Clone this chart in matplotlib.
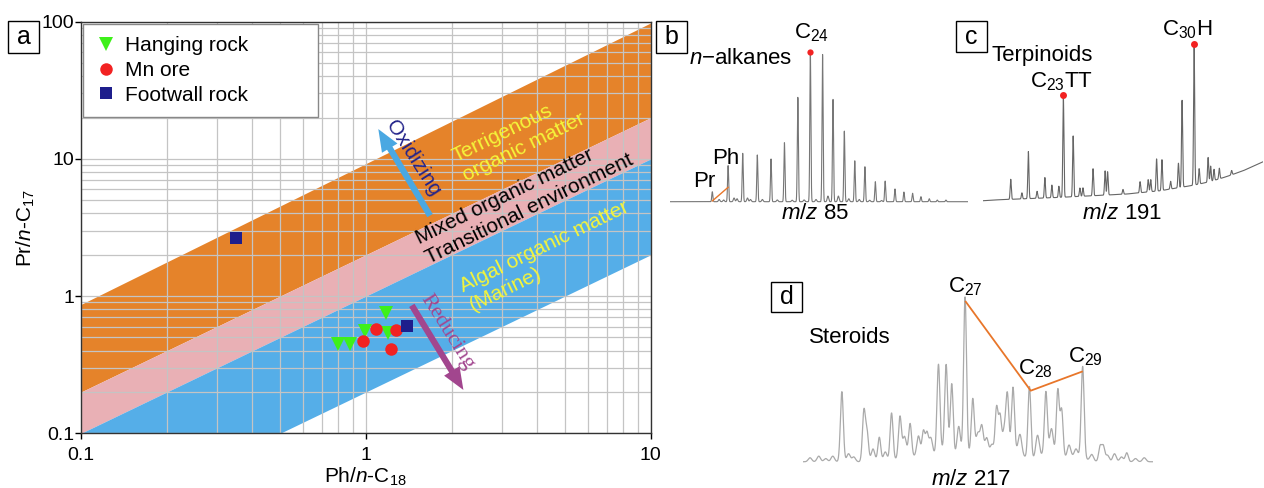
import numpy as np
import matplotlib
matplotlib.use("Agg")
import matplotlib.pyplot as plt
from matplotlib.patches import Rectangle

plt.rcParams['font.family'] = ['Liberation Sans', 'DejaVu Sans']
plt.rcParams['mathtext.fontset'] = 'custom'
plt.rcParams['mathtext.rm'] = 'Liberation Sans'
plt.rcParams['mathtext.it'] = 'Liberation Sans:italic'

W, H = 1264, 488

# ---- panel a data ----
band_x = [0.1, 10]
terr_top = [0.87, 98]
terr_bot = [0.2, 20]
algal_top = [0.1, 10]
algal_bot = [0.02, 2]

hang_ph = [0.80, 0.88, 0.99, 1.18, 1.20]
hang_pr = [0.45, 0.45, 0.56, 0.75, 0.54]
ore_ph = [0.975, 1.085, 1.276, 1.228]
ore_pr = [0.47, 0.575, 0.57, 0.41]
foot_ph = [0.35, 1.40]
foot_pr = [2.67, 0.605]

# ---- chromatograms (position 0-100, relative intensity) ----
alk_pos = [14.2, 19.5, 24.4, 29.3, 33.9, 38.4, 42.9, 47.1, 51.2, 54.7, 58.5, 62.0,
           65.4, 68.9, 72.2, 75.5, 78.5, 81.4, 84.2, 87.0, 89.7, 92.6]
alk_int = [6.7, 24.3, 32.6, 31.5, 28.8, 39.8, 70.4, 100, 99.3, 69, 47.6, 27.6,
           23.6, 13.5, 13.9, 8.6, 6.5, 5.7, 3.4, 2.0, 1.1, 1.1]
alk_minor_pos = [16.5, 18.0, 21.5, 22.5, 26.0, 27.0, 31.0, 36.0, 41.0, 45.0, 49.0,
                 53.0, 56.5, 60.0, 63.5, 67.0, 71.0]
alk_minor_int = [1.5, 1.2, 2.5, 2.0, 2.5, 1.5, 1.5, 1.2, 1.0, 1.2, 1.5, 3.8, 3.8,
                 2.0, 1.5, 1.0, 0.8]

ter_pos = [9.9, 13.9, 16.2, 19.3, 22.1, 24.6, 27.1, 28.7, 32.2, 34.6, 35.7, 39.3, 43.6,
           44.5, 50.0, 56.1, 59.0, 59.9, 62.0, 63.9, 67.0, 69.8, 71.1, 75.4, 77.2,
           80.4, 81.3, 82.5, 84.4, 88.8]
ter_int = [14.3, 4.3, 33.6, 5, 14.6, 9, 8, 72, 43.4, 6, 6, 19.3, 17.3, 16.6, 3.4,
           7.9, 8.8, 8.6, 23, 22, 5.5, 17.5, 62, 100, 11, 17.6, 11, 8, 7.6, 3.1]
ter_base_x = [0, 3.6, 27.5, 51.4, 63.2, 75, 81.1, 87.1, 92.9, 100]
ter_base_y = [0, 0.5, 2.4, 4.8, 7.1, 11, 13.6, 17.3, 21.4, 27.8]

ste_pos = [11.1, 17.4, 18.3, 21.8, 25.3, 27.7, 30.6, 34.4, 35.4, 38.7, 40.9, 42.5,
           46.3, 48.5, 51.1, 55.3, 56.3, 58.4, 60.0, 64.7, 69.4, 72.8, 73.9, 79.9,
           84.9, 85.8, 92.5]
ste_int = [43.8, 31.3, 18, 15.3, 29.8, 25.6, 20, 17.3, 15.4, 54.8, 54.2, 44.4,
           100, 32.8, 14.8, 31.3, 25, 34.8, 39.6, 45.3, 39, 41.7, 29.8, 57.3,
           9.4, 9.4, 5.6]
ste_minor_pos = [2, 4.5, 6.5, 8.5, 13, 14.5, 20, 23.5, 29, 33, 36.5, 44.5, 50, 52.5,
                 54, 57.5, 62, 67, 71, 76, 78, 82.5, 87, 89, 91, 95, 97.5]
ste_minor_int = [2.5, 3.5, 2, 3.5, 5, 3, 8, 6, 12, 14, 12, 20, 10, 10, 8, 15, 12,
                 14, 16, 8, 5, 4, 4, 5, 3, 2, 2.5]
ste_hump_pos = [30, 40, 50, 60, 70, 78]
ste_hump_int = [4, 7, 8, 7, 5, 3]

FS_A = 15    # panel a annotations
FS_C = 16    # chromatogram labels


def peaks(x, pos, hts, sig):
    p = np.asarray(pos)[:, None]
    h = np.asarray(hts)[:, None]
    return (h * np.exp(-0.5 * ((x[None, :] - p) / sig) ** 2)).sum(axis=0)


def px_axes(fig, left, top, right, bottom):
    return fig.add_axes([left / W, 1 - bottom / H, (right - left) / W, (bottom - top) / H])


def label_box(fig, x0, y0, x1, y1, s):
    fig.add_artist(Rectangle((x0 / W, 1 - y1 / H), (x1 - x0) / W, (y1 - y0) / H,
                             transform=fig.transFigure, fc='white', ec='black', lw=1.0))
    fig.text((x0 + x1) / 2 / W, 1 - (y0 + y1) / 2 / H, s, fontsize=18,
             ha='center', va='center')


fig = plt.figure(figsize=(W / 100, H / 100), dpi=100)

# ================= panel a =================
ax = px_axes(fig, 81, 21.7, 650.7, 433.3)
ax.set_xscale('log')
ax.set_yscale('log')
ax.fill_between(band_x, terr_bot, terr_top, color='#e5832a', lw=0, zorder=1)
ax.fill_between(band_x, algal_top, terr_bot, color='#e9b0b5', lw=0, zorder=1)
ax.fill_between(band_x, algal_bot, algal_top, color='#55aee8', lw=0, zorder=1)
ax.set_xlim(0.1, 10)
ax.set_ylim(0.1, 100)
ax.grid(True, which='both', color='#c4c4c4', lw=0.9, zorder=1.5)
ax.set_xticks([0.1, 1, 10])
ax.set_xticklabels(['0.1', '1', '10'])
ax.set_yticks([0.1, 1, 10, 100])
ax.set_yticklabels(['0.1', '1', '10', '100'])
ax.tick_params(which='major', length=4, width=1, labelsize=14, direction='out')
ax.tick_params(axis='x', which='major', pad=6)
ax.tick_params(axis='y', which='major', pad=1)
ax.tick_params(which='minor', length=0)
for s in ax.spines.values():
    s.set_color('#333333')
    s.set_linewidth(1.0)

ax.plot(hang_ph, hang_pr, 'v', color='#3ef01a', ms=10, mew=0, ls='none',
        label='Hanging rock', zorder=4)
ax.plot(ore_ph, ore_pr, 'o', color='#f22222', ms=9, mew=0, ls='none',
        label='Mn ore', zorder=4)
ax.plot(foot_ph, foot_pr, 's', color='#1e1e8c', ms=9, mew=0, ls='none',
        label='Footwall rock', zorder=4)

leg = ax.legend(loc='upper left', bbox_to_anchor=(0.0035, 0.755, 0.4125, 0.24),
                mode='expand', fontsize=15, frameon=True, fancybox=False,
                edgecolor='#888888', framealpha=1, borderpad=0.6, labelspacing=0.27,
                handlelength=1.0, handletextpad=0.42, borderaxespad=0)
leg.get_frame().set_linewidth(1.0)
leg.set_zorder(6)

ax.set_xlabel('Ph/$n$-C$_{18}$', fontsize=15, labelpad=1)
ax.set_ylabel('Pr/$n$-C$_{17}$', fontsize=15, labelpad=3)

ax.text(3.44, 14.3, 'Terrigenous\norganic matter', color='#f5f53a', fontsize=FS_A,
        rotation=26, rotation_mode='anchor', ha='center', va='center',
        multialignment='left', zorder=5)
ax.text(3.6, 5.07, 'Mixed organic matter\nTransitional environment', color='black',
        fontsize=FS_A, rotation=26, rotation_mode='anchor', ha='center', va='center',
        multialignment='left', zorder=5)
ax.text(4.4, 1.95, 'Algal organic matter\n(Marine)', color='#f5f53a', fontsize=FS_A,
        rotation=26, rotation_mode='anchor', ha='center', va='center',
        multialignment='left', zorder=5)

ax.annotate('', xy=(1.106, 16.5), xytext=(1.68, 3.86),
            arrowprops=dict(arrowstyle='simple,head_width=1.3,head_length=1.6,tail_width=0.45',
                            color='#4aa8e2', lw=0, shrinkA=0, shrinkB=0, mutation_scale=10),
            zorder=5)
ax.annotate('', xy=(2.2, 0.207), xytext=(1.45, 0.856),
            arrowprops=dict(arrowstyle='simple,head_width=1.3,head_length=1.6,tail_width=0.45',
                            color='#a2468e', lw=0, shrinkA=0, shrinkB=0, mutation_scale=10),
            zorder=5)
ax.text(1.467, 10.1, 'Oxidizing', color='#22238a', fontsize=FS_A, rotation=-57.5,
        rotation_mode='anchor', ha='center', va='center', zorder=5)
ax.text(1.93, 0.547, 'Reducing', color='#a2478f', fontsize=16, rotation=-57.8,
        rotation_mode='anchor', ha='center', va='center', zorder=5,
        family=['Liberation Serif', 'DejaVu Serif'])

label_box(fig, 8, 21, 39, 53, 'a')

# ================= panel b =================
bx = px_axes(fig, 670, 20, 968, 230)
xs = np.linspace(0, 100, 6000)
yb = peaks(xs, alk_pos, alk_int, 0.18) + peaks(xs, alk_minor_pos, alk_minor_int, 0.25)
bx.plot(xs, yb, color='#777777', lw=0.8)
bx.plot([alk_pos[0], alk_pos[1]], [0.5, 9.7], color='#e8762a', lw=1.0)
bx.plot(alk_pos[7], alk_int[7] + 0.7, 'o', color='#f22222', ms=4.5, mew=0)
bx.set_xlim(0, 100)
bx.set_ylim(-19.07, 122.44)
bx.axis('off')
bx.text(6.4, 96.8, '$n$\u2212alkanes', fontsize=FS_C, ha='left', va='center')
bx.text(47.5, 113.7, 'C$_{24}$', fontsize=FS_C, ha='center', va='center')
bx.text(18.6, 29.4, 'Ph', fontsize=FS_C, ha='center', va='center')
bx.text(11.6, 13.3, 'Pr', fontsize=FS_C, ha='center', va='center')
bx.text(48.7, -7.9, '$m/z$ 85', fontsize=FS_C, ha='center', va='center')
label_box(fig, 656, 21, 687, 53, 'b')

# ================= panel c =================
cx = px_axes(fig, 983, 15, 1263, 230)
xc = np.linspace(0, 100, 6000)
base_c = np.interp(xc, ter_base_x, ter_base_y)
yc = base_c + peaks(xc, ter_pos, ter_int, 0.2)
cx.plot(xc, yc, color='#666666', lw=0.8)
for i in (7, 23):
    cx.plot(ter_pos[i], ter_int[i] + np.interp(ter_pos[i], ter_base_x, ter_base_y) + 1,
            'o', color='#f22222', ms=5, mew=0)
cx.set_xlim(0, 100)
cx.set_ylim(-20.9, 132.6)
cx.axis('off')
cx.text(3.2, 104, 'Terpinoids', fontsize=FS_C, ha='left', va='center')
cx.text(27.9, 84.8, 'C$_{23}$TT', fontsize=FS_C, ha='center', va='center')
cx.text(73, 121.9, 'C$_{30}$H', fontsize=FS_C, ha='center', va='center')
cx.text(49.8, -8.8, '$m/z$ 191', fontsize=FS_C, ha='center', va='center')
label_box(fig, 956, 21, 987, 52, 'c')

# ================= panel d =================
dx = px_axes(fig, 803, 270, 1153, 488)
xd = np.linspace(0, 100, 6000)
yd = (peaks(xd, ste_pos, ste_int, 0.42) + peaks(xd, ste_minor_pos, ste_minor_int, 0.5)
      + peaks(xd, ste_hump_pos, ste_hump_int, 2.5))
dx.plot(xd, yd, color='#aaaaaa', lw=0.9)
dx.plot([46.5, 65.06, 79.7], [100, 44.4, 56.3], color='#e8762a', lw=1.3)
dx.set_xlim(0, 100)
dx.set_ylim(-16.4, 119.8)
dx.axis('off')
dx.text(13.4, 77.9, 'Steroids', fontsize=FS_C, ha='center', va='center')
dx.text(46.4, 109.2, 'C$_{27}$', fontsize=FS_C, ha='center', va='center')
dx.text(66.3, 57.9, 'C$_{28}$', fontsize=FS_C, ha='center', va='center')
dx.text(80.6, 65.4, 'C$_{29}$', fontsize=FS_C, ha='center', va='center')
dx.text(48.1, -10.8, '$m/z$ 217', fontsize=FS_C, ha='center', va='center')
label_box(fig, 771, 282, 802, 312, 'd')

fig.savefig('out.png', dpi=100)
